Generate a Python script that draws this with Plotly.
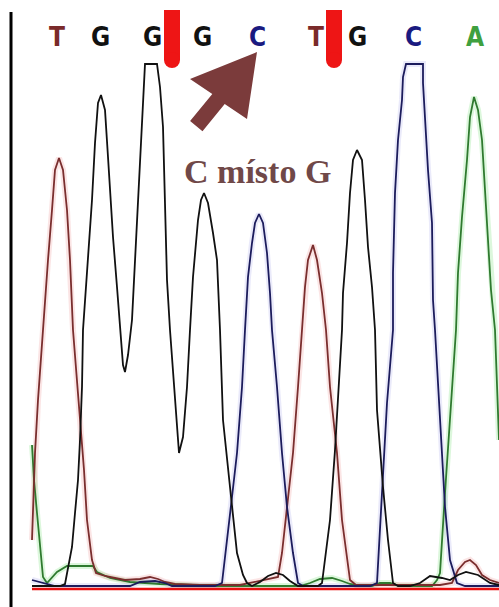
import plotly.graph_objects as go

# ---- chromatogram traces (x = scan position, y = signal intensity) ----
t_x = [32,35,38,43,45,48,52,55,59,63,67,70,73,80,84,87,92,96,105,115,125,140,150,158,165,175,200,240,268,278,
       282,287,293,298,302,305,308,313,317,322,326,330,337,342,350,356,440,452,458,465,470,476,482,490,499]
t_y = [46,133,186,256,293,326,376,416,428,416,376,326,256,166,116,66,26,13,10,8,6,7,9,7,4,2,1,1,7,9,
       33,79,133,199,256,299,326,341,326,293,256,199,133,66,6,1,1,3,16,24,26,21,11,6,3]

g_x = [32,60,65,68,72,75,78,80,82,83,88,92,95,98,101,105,108,113,117,120,
       123,125,128,132,135,138,142,144,145,157,160,163,165,167,170,173,177,179,183,187,
       190,193,198,201,204,208,213,217,220,223,230,237,243,247,252,260,268,276,283,290,
       298,318,322,326,330,335,338,342,343,347,350,353,357,362,365,368,372,375,377,380,
       383,388,393,398,410,420,430,442,450,458,466,478,490,499]
g_y = [0,0,2,19,39,73,106,146,199,256,326,386,443,483,491,476,429,349,299,256,
       221,214,231,266,326,393,459,503,522,522,499,459,386,306,256,216,166,133,149,199,
       256,309,366,386,393,383,353,326,256,166,99,33,11,3,0,4,10,13,11,5,
       0,0,3,36,66,136,183,256,293,343,393,426,436,426,386,339,299,256,176,136,
       99,46,3,0,0,3,10,8,6,11,14,11,3,1]

c_x = [32,40,48,55,130,140,155,165,172,215,222,227,232,237,242,245,248,252,255,259,
       263,267,270,272,277,282,287,293,298,303,370,377,382,387,393,393,395,398,402,403,
       406,423,423,425,428,432,433,435,440,445,450,457,465,499]
c_y = [6,4,2,0,0,4,5,3,0,0,3,49,89,133,199,256,309,343,363,372,
       363,333,293,256,199,133,79,33,3,0,0,3,99,183,256,313,393,446,486,509,
       522,522,503,463,416,363,286,256,166,79,26,3,0,0]

a_x = [32,34,37,40,43,47,50,57,67,93,97,110,130,160,193,200,300,310,320,332,
       342,350,360,372,380,390,400,432,437,440,445,450,456,458,462,467,470,474,478,482,
       485,488,491,495,499]
a_y = [141,106,73,39,9,3,6,14,20,20,14,8,4,2,1,0,0,3,7,8,
       5,2,0,0,3,3,0,0,6,13,93,166,256,313,369,426,469,489,476,446,
       399,353,296,256,146]

# ---- base calls ----
base_letters = ["T","G","G","G","C","T","G","C","A"]
base_pos = [57,100,152,202,257,316,357,413,475]
letter_y = 549

base_colors = {"T": "#7a2a2a", "G": "#111111", "C": "#1a1a80", "A": "#3fa03f"}
line_colors = {"T": "#7a2e2e", "G": "#111111", "C": "#1c1c5c", "A": "#2f7a2f"}
halo_colors = {"T": "rgba(240,150,150,0.25)", "G": "rgba(0,0,0,0)",
               "C": "rgba(150,150,230,0.2)", "A": "rgba(140,230,140,0.3)"}

fig = go.Figure()
series = [("A", a_x, a_y), ("T", t_x, t_y), ("C", c_x, c_y), ("G", g_x, g_y)]
for name, xs, ys in series:
    fig.add_trace(go.Scatter(x=xs, y=ys, mode="lines", hoverinfo="skip",
                             line=dict(color=halo_colors[name], width=6), showlegend=False))
for name, xs, ys in series:
    fig.add_trace(go.Scatter(x=xs, y=ys, mode="lines", name=name, hoverinfo="skip",
                             line=dict(color=line_colors[name], width=1.8), showlegend=False))

# red marker bars above the mutated positions
for x0, x1 in [(164, 180), (326, 342)]:
    fig.add_shape(type="rect", x0=x0, x1=x1, y0=526, y1=576, line_width=0,
                  fillcolor="#ee1515", layer="above")
    fig.add_shape(type="circle", x0=x0, x1=x1, y0=518, y1=534, line_width=0,
                  fillcolor="#ee1515", layer="above")

# baseline and left border
fig.add_shape(type="line", x0=32, x1=499, y0=-3, y1=-3, line=dict(color="#e81010", width=2.5))
fig.add_shape(type="line", x0=11, x1=11, y0=-21, y1=574, line=dict(color="#000000", width=3))

for L, px in zip(base_letters, base_pos):
    fig.add_annotation(x=px, y=letter_y, text="<b>%s</b>" % L, showarrow=False,
                       font=dict(family="DejaVu Sans Condensed, Liberation Sans Narrow, Arial", size=26,
                                 color=base_colors[L]),
                       xanchor="center", yanchor="middle")

# fat arrow pointing at the mutated base
fig.add_shape(type="path",
              path="M 257,534 L 190,507 L 212.3,492.1 L 190.1,465 L 202.5,454.8 L 224.7,481.9 L 247,467 Z",
              fillcolor="#7b3b3b", line_width=0, layer="above")
fig.add_annotation(x=257, y=415, text="<b>C místo G</b>", showarrow=False,
                   font=dict(family="Liberation Serif, Times New Roman, serif", size=34, color="#704848"),
                   xanchor="center", yanchor="middle")

fig.update_layout(width=499, height=607, margin=dict(l=0, r=0, t=0, b=0),
                  paper_bgcolor="white", plot_bgcolor="white",
                  xaxis=dict(range=[0, 499], visible=False, fixedrange=True),
                  yaxis=dict(range=[-21, 586], visible=False, fixedrange=True))

fig.write_html("out.html", config={"displayModeBar": False},
               post_script="document.body.style.margin='0';document.body.style.overflow='hidden';")
